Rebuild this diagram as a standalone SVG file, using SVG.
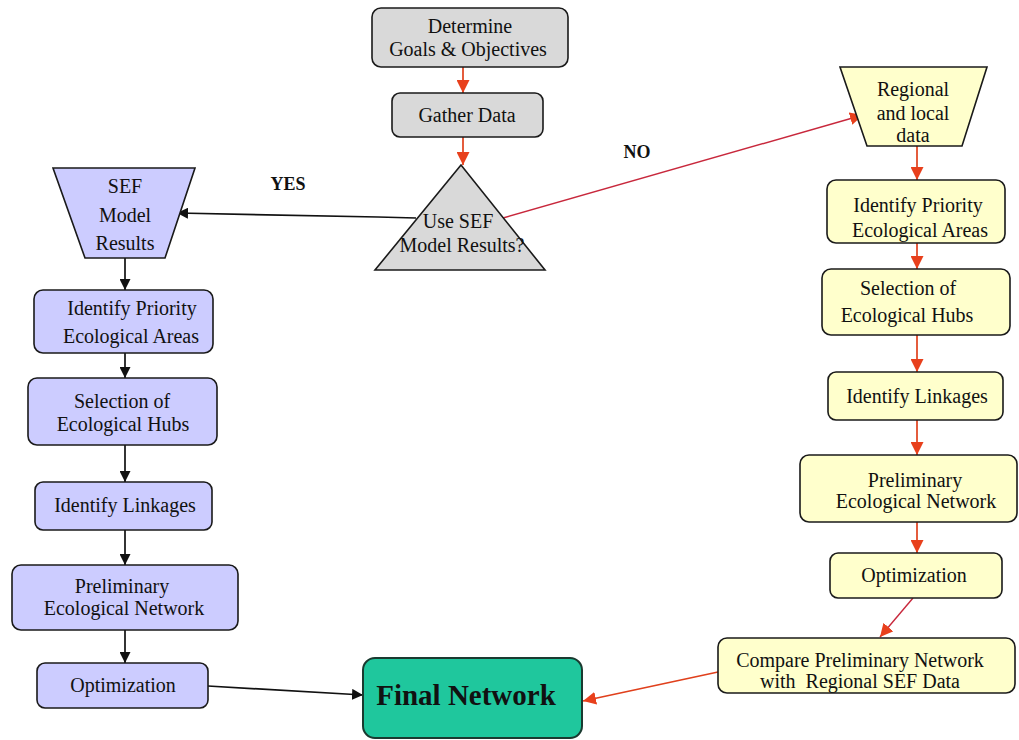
<svg xmlns="http://www.w3.org/2000/svg" width="1019" height="740" viewBox="0 0 1019 740">
  <style>
    .box { stroke: #1a1a1a; stroke-width: 1.6; }
    .gray { fill: #d9d9d9; }
    .blue { fill: #ccccff; }
    .yel { fill: #ffffcc; }
    .green { fill: #1fc79d; stroke: #1a3a30; stroke-width: 2; }
    text { font-family: "Liberation Serif", "Times New Roman", serif; font-size: 20px; fill: #111; text-anchor: middle; }
    .lbl { font-weight: bold; font-size: 18px; }
    .big { font-weight: bold; font-size: 29px; }
    .blk { stroke: #111; stroke-width: 1.7; fill: none; }
    .red { stroke: #e0401c; stroke-width: 1.7; fill: none; }
    .crim { stroke: #c8283c; stroke-width: 1.4; fill: none; }
  </style>
  <defs>
    <marker id="ab" viewBox="0 0 10 10" refX="10" refY="5" markerWidth="11" markerHeight="11" markerUnits="userSpaceOnUse" orient="auto">
      <path d="M0,0 L10,5 L0,10 z" fill="#111"/>
    </marker>
    <marker id="ar" viewBox="0 0 10 10" refX="10" refY="5" markerWidth="13" markerHeight="13" markerUnits="userSpaceOnUse" orient="auto">
      <path d="M0,0 L10,5 L0,10 z" fill="#e8401c"/>
    </marker>
  </defs>

  <rect width="1019" height="740" fill="#ffffff"/>

  <!-- connectors -->
  <g id="connectors">
    <line class="red" x1="463" y1="67" x2="463" y2="93" marker-end="url(#ar)"/>
    <line class="red" x1="463" y1="137" x2="463" y2="165" marker-end="url(#ar)"/>
    <polyline class="blk" points="416,218 378,217 177,213" marker-end="url(#ab)"/>
    <line class="crim" x1="503" y1="218" x2="863" y2="115" marker-end="url(#ar)"/>

    <line class="blk" x1="125" y1="258" x2="125" y2="290" marker-end="url(#ab)"/>
    <line class="blk" x1="125" y1="353" x2="125" y2="378" marker-end="url(#ab)"/>
    <line class="blk" x1="125" y1="445" x2="125" y2="482" marker-end="url(#ab)"/>
    <line class="blk" x1="125" y1="530" x2="125" y2="565" marker-end="url(#ab)"/>
    <line class="blk" x1="125" y1="630" x2="125" y2="663" marker-end="url(#ab)"/>
    <line class="blk" x1="208" y1="686" x2="363" y2="695" marker-end="url(#ab)"/>

    <line class="red" x1="917" y1="146" x2="917" y2="180" marker-end="url(#ar)"/>
    <line class="red" x1="917" y1="243" x2="917" y2="269" marker-end="url(#ar)"/>
    <line class="red" x1="917" y1="335" x2="917" y2="372" marker-end="url(#ar)"/>
    <line class="red" x1="917" y1="420" x2="917" y2="455" marker-end="url(#ar)"/>
    <line class="red" x1="917" y1="522" x2="917" y2="553" marker-end="url(#ar)"/>
    <line class="crim" x1="913" y1="598" x2="880" y2="637" marker-end="url(#ar)"/>
    <line class="red" x1="718" y1="672" x2="583" y2="701" marker-end="url(#ar)"/>

    <text class="lbl" x="288" y="190">YES</text>
    <text class="lbl" x="637" y="158">NO</text>
  </g>

  <!-- top of the flow -->
  <g id="goals">
    <rect class="box gray" x="372" y="8" width="196" height="59" rx="9"/>
    <text x="470" y="33">Determine</text>
    <text x="468" y="56">Goals &amp; Objectives</text>
  </g>
  <g id="gather">
    <rect class="box gray" x="392" y="93" width="151" height="44" rx="8"/>
    <text x="467" y="122">Gather Data</text>
  </g>
  <g id="decision">
    <polygon class="box gray" points="461,165 375,270 545,270"/>
    <text x="458" y="228">Use SEF</text>
    <text x="462" y="252">Model Results?</text>
  </g>

  <!-- SEF model branch -->
  <g id="sef-results">
    <polygon class="box blue" points="53,168 195,168 165,258 85,258"/>
    <text x="125" y="193">SEF</text>
    <text x="125" y="222">Model</text>
    <text x="125" y="250">Results</text>
  </g>
  <g id="l-priority">
    <rect class="box blue" x="34" y="290" width="179" height="63" rx="9"/>
    <text x="132" y="315">Identify Priority</text>
    <text x="131" y="343">Ecological Areas</text>
  </g>
  <g id="l-hubs">
    <rect class="box blue" x="28" y="378" width="189" height="67" rx="9"/>
    <text x="122" y="408">Selection of</text>
    <text x="123" y="431">Ecological Hubs</text>
  </g>
  <g id="l-linkages">
    <rect class="box blue" x="35" y="482" width="177" height="48" rx="8"/>
    <text x="125" y="512">Identify Linkages</text>
  </g>
  <g id="l-network">
    <rect class="box blue" x="12" y="565" width="226" height="65" rx="9"/>
    <text x="122" y="593">Preliminary</text>
    <text x="124" y="615">Ecological Network</text>
  </g>
  <g id="l-optimization">
    <rect class="box blue" x="37" y="663" width="171" height="45" rx="8"/>
    <text x="123" y="692">Optimization</text>
  </g>

  <!-- regional data branch -->
  <g id="regional">
    <polygon class="box yel" points="840,67 987,67 962,146 867,146"/>
    <text x="913" y="96">Regional</text>
    <text x="913" y="120">and local</text>
    <text x="913" y="142">data</text>
  </g>
  <g id="r-priority">
    <rect class="box yel" x="827" y="180" width="178" height="63" rx="9"/>
    <text x="918" y="212">Identify Priority</text>
    <text x="920" y="237">Ecological Areas</text>
  </g>
  <g id="r-hubs">
    <rect class="box yel" x="822" y="269" width="188" height="66" rx="9"/>
    <text x="908" y="295">Selection of</text>
    <text x="907" y="322">Ecological Hubs</text>
  </g>
  <g id="r-linkages">
    <rect class="box yel" x="828" y="372" width="175" height="48" rx="8"/>
    <text x="917" y="403">Identify Linkages</text>
  </g>
  <g id="r-network">
    <rect class="box yel" x="800" y="455" width="217" height="67" rx="9"/>
    <text x="915" y="487">Preliminary</text>
    <text x="916" y="508">Ecological Network</text>
  </g>
  <g id="r-optimization">
    <rect class="box yel" x="830" y="553" width="172" height="45" rx="8"/>
    <text x="914" y="582">Optimization</text>
  </g>
  <g id="compare">
    <rect class="box yel" x="718" y="638" width="297" height="55" rx="9"/>
    <text x="860" y="667">Compare Preliminary Network</text>
    <text x="860" y="688" xml:space="preserve">with  Regional SEF Data</text>
  </g>

  <!-- result -->
  <g id="final">
    <rect class="green" x="363" y="658" width="219" height="80" rx="12"/>
    <text class="big" x="466" y="705">Final Network</text>
  </g>
</svg>
